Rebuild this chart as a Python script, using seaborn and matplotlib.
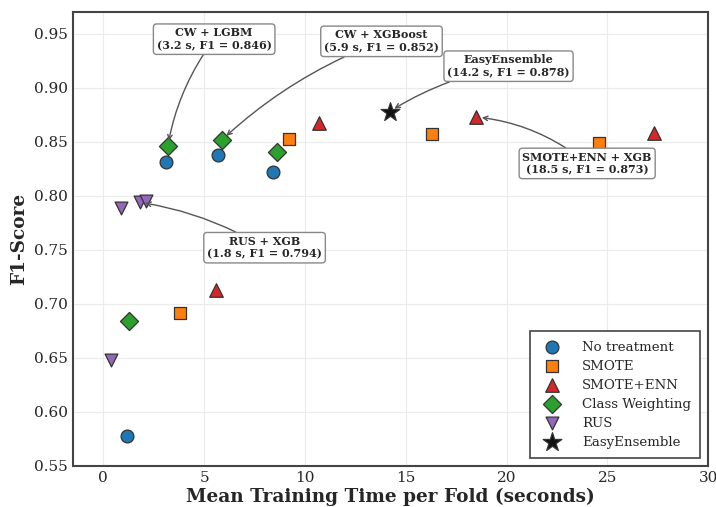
import numpy as np
import pandas as pd
import seaborn as sns
import matplotlib.pyplot as plt

# Data
nt_time = [1.2, 3.1, 5.7, 8.4]
nt_f1 = [0.578, 0.831, 0.838, 0.822]
smote_time = [3.8, 9.2, 16.3, 24.6]
smote_f1 = [0.692, 0.853, 0.857, 0.849]
senn_time = [5.6, 10.7, 18.5, 27.3]
senn_f1 = [0.713, 0.867, 0.873, 0.858]
cw_time = [1.3, 3.2, 5.9, 8.6]
cw_f1 = [0.684, 0.846, 0.852, 0.841]
rus_time = [0.4, 0.9, 1.8, 2.1]
rus_f1 = [0.648, 0.789, 0.794, 0.795]
ee_time = [14.2]
ee_f1 = [0.878]

groups = ['No treatment', 'SMOTE', 'SMOTE+ENN', 'Class Weighting', 'RUS', 'EasyEnsemble']
colors = ['#1f77b4', '#ff7f0e', '#d62728', '#2ca02c', '#9467bd', '#111111']
markers = ['o', 's', '^', 'D', 'v', '*']
sizes = [85, 85, 95, 85, 85, 200]

times = [nt_time, smote_time, senn_time, cw_time, rus_time, ee_time]
f1s = [nt_f1, smote_f1, senn_f1, cw_f1, rus_f1, ee_f1]

rows = []
for g, t, f in zip(groups, times, f1s):
    for a, b in zip(t, f):
        rows.append({'Method': g, 'Time': a, 'F1': b})
df = pd.DataFrame(rows)

sns.set_style('whitegrid')
plt.rcParams['font.family'] = ['DejaVu Serif']

fig, ax = plt.subplots(figsize=(7.16, 5.07), dpi=100)

for g, c, m, s in zip(groups, colors, markers, sizes):
    sub = df[df['Method'] == g]
    sns.scatterplot(data=sub, x='Time', y='F1', color=c, marker=m, s=s,
                    edgecolor='#333333', linewidth=0.9, label=g, ax=ax, zorder=3)

# annotations
notes = [
    ('CW + LGBM\n(3.2 s, F1 = 0.846)', (3.2, 0.846), (5.5, 0.945), 0.12),
    ('CW + XGBoost\n(5.9 s, F1 = 0.852)', (5.9, 0.852), (13.8, 0.943), 0.1),
    ('EasyEnsemble\n(14.2 s, F1 = 0.878)', (14.2, 0.878), (20.1, 0.920), 0.1),
    ('SMOTE+ENN + XGB\n(18.5 s, F1 = 0.873)', (18.5, 0.873), (24.0, 0.830), 0.15),
    ('RUS + XGB\n(1.8 s, F1 = 0.794)', (1.8, 0.794), (8.0, 0.752), 0.1),
]
for txt, xy, xytext, rad in notes:
    ax.annotate(txt, xy=xy, xytext=xytext, ha='center', va='center',
                fontsize=8, fontweight='bold',
                bbox=dict(boxstyle='round,pad=0.3', fc='white', ec='#888888', lw=1),
                arrowprops=dict(arrowstyle='->', color='#555555', lw=1,
                                connectionstyle='arc3,rad=%s' % rad, shrinkA=0, shrinkB=4),
                zorder=4)

ax.set_xlim(-1.5, 30)
ax.set_ylim(0.55, 0.97)
ax.set_xticks([0, 5, 10, 15, 20, 25, 30])
ax.set_yticks(np.arange(0.55, 0.951, 0.05))
ax.set_yticklabels(['%.2f' % v for v in np.arange(0.55, 0.951, 0.05)])
ax.tick_params(labelsize=11, direction='in', length=3, color='#444444')
ax.grid(color='#ebebeb', lw=0.8)
for sp in ax.spines.values():
    sp.set_color('#444444')
    sp.set_linewidth(1.5)

ax.set_xlabel('Mean Training Time per Fold (seconds)', fontsize=13.3, fontweight='bold', labelpad=2)
ax.set_ylabel('F1-Score', fontsize=13.3, fontweight='bold')

leg = ax.legend(loc='lower right', fontsize=9.6, fancybox=False, framealpha=1,
                edgecolor='#444444', markerscale=1.0, borderpad=0.7, handletextpad=1.2,
                labelspacing=0.45, borderaxespad=0.6)
leg.get_frame().set_linewidth(1.2)

fig.subplots_adjust(left=0.102, right=0.989, top=0.976, bottom=0.081)
fig.savefig('out.png', dpi=100)
